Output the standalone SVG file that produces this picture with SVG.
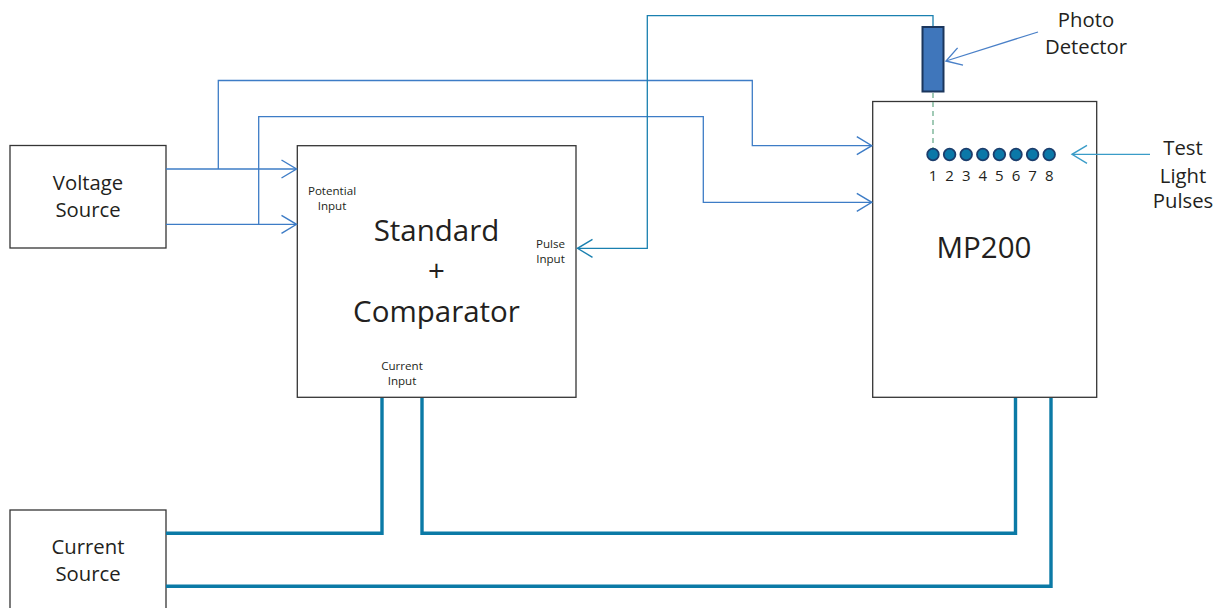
<svg xmlns="http://www.w3.org/2000/svg" width="1222" height="608" viewBox="0 0 1222 608">
<style>
.box{fill:#fff;stroke:#353535;stroke-width:1.3}
.t{font-family:"Open Sans","Liberation Sans",sans-serif;fill:#231f20;text-anchor:middle}
.lbl{font-size:20.3px}
.big{font-size:29.5px}
.sm{font-size:11.6px}
.num{font-size:15px}
.blue{fill:none;stroke:#3d7cc6;stroke-width:1.3}
.teal{fill:none;stroke:#1a80b0;stroke-width:1.3}
.thick{fill:none;stroke:#0b7aa6;stroke-width:3.4}
.led{fill:#0b78a8;stroke:#1b3d6c;stroke-width:1.8}
</style>
<defs>
<marker id="ab" markerUnits="userSpaceOnUse" orient="auto" markerWidth="20" markerHeight="22" refX="16" refY="10" viewBox="0 0 20 22" overflow="visible">
<path d="M1,1 L16,10 L1,19" fill="none" stroke="#3d7cc6" stroke-width="1.4"/>
</marker>
<marker id="at" markerUnits="userSpaceOnUse" orient="auto" markerWidth="20" markerHeight="22" refX="16" refY="10" viewBox="0 0 20 22" overflow="visible">
<path d="M1,1 L16,10 L1,19" fill="none" stroke="#1a80b0" stroke-width="1.4"/>
</marker>
<marker id="al" markerUnits="userSpaceOnUse" orient="auto" markerWidth="20" markerHeight="22" refX="16" refY="10" viewBox="0 0 20 22" overflow="visible">
<path d="M1,1 L16,10 L1,19" fill="none" stroke="#3a9cc8" stroke-width="1.4"/>
</marker>
<marker id="ap" markerUnits="userSpaceOnUse" orient="auto" markerWidth="20" markerHeight="22" refX="16" refY="10" viewBox="0 0 20 22" overflow="visible">
<path d="M1,1 L16,10 L1,19" fill="none" stroke="#4a80c8" stroke-width="1.4"/>
</marker>
</defs>
<rect width="1222" height="608" fill="#fff"/>

<g id="voltage-source">
<rect class="box" x="10" y="145.5" width="156" height="102.5"/>
<text class="t lbl" x="88" y="190">Voltage</text>
<text class="t lbl" x="88" y="217.3">Source</text>
</g>

<g id="current-source">
<rect class="box" x="10" y="510" width="156" height="110"/>
<text class="t lbl" x="88" y="554.3">Current</text>
<text class="t lbl" x="88" y="580.7">Source</text>
</g>

<g id="standard-comparator">
<rect class="box" x="297.3" y="145.7" width="278.7" height="251.6"/>
<text class="t big" x="436.5" y="241">Standard</text>
<text class="t big" x="436.5" y="281">+</text>
<text class="t big" x="436.5" y="321.7">Comparator</text>
<text class="t sm" x="332" y="195">Potential</text>
<text class="t sm" x="332" y="210">Input</text>
<text class="t sm" x="550.5" y="248">Pulse</text>
<text class="t sm" x="550.5" y="263">Input</text>
<text class="t sm" x="402" y="370">Current</text>
<text class="t sm" x="402" y="385">Input</text>
</g>

<g id="mp200">
<rect class="box" x="872.7" y="101.5" width="224" height="295.8"/>
<text class="t big" x="984" y="258.3">MP200</text>
<circle class="led" cx="933" cy="154.5" r="5.8"/>
<circle class="led" cx="949.6" cy="154.5" r="5.8"/>
<circle class="led" cx="966.2" cy="154.5" r="5.8"/>
<circle class="led" cx="982.8" cy="154.5" r="5.8"/>
<circle class="led" cx="999.4" cy="154.5" r="5.8"/>
<circle class="led" cx="1016" cy="154.5" r="5.8"/>
<circle class="led" cx="1032.6" cy="154.5" r="5.8"/>
<circle class="led" cx="1049.2" cy="154.5" r="5.8"/>
<text class="t num" x="933" y="181.3">1</text>
<text class="t num" x="949.6" y="181.3">2</text>
<text class="t num" x="966.2" y="181.3">3</text>
<text class="t num" x="982.8" y="181.3">4</text>
<text class="t num" x="999.4" y="181.3">5</text>
<text class="t num" x="1016" y="181.3">6</text>
<text class="t num" x="1032.6" y="181.3">7</text>
<text class="t num" x="1049.2" y="181.3">8</text>
</g>

<g id="photo-detector">
<rect x="922.5" y="27" width="21" height="64.5" fill="#3f76bb" stroke="#1b365d" stroke-width="2"/>
<text class="t lbl" x="1086" y="26.7">Photo</text>
<text class="t lbl" x="1086" y="54">Detector</text>
</g>

<g id="test-light-pulses">
<text class="t lbl" x="1183" y="155">Test</text>
<text class="t lbl" x="1183" y="182.5">Light</text>
<text class="t lbl" x="1183" y="208.3">Pulses</text>
</g>

<g id="connectors">
<path class="blue" d="M166,169 H296.5" marker-end="url(#ab)"/>
<path class="blue" d="M218.3,169 V80.5 H752.3 V145.7 H871.8" marker-end="url(#ab)"/>
<path class="blue" d="M166,224.3 H296.5" marker-end="url(#ab)"/>
<path class="blue" d="M258.7,224.3 V116.7 H703.3 V202.3 H871.8" marker-end="url(#ab)"/>
<path class="teal" d="M933,26 V15.7 H647.3 V248.3 H577.5" marker-end="url(#at)"/>
<path d="M933,93 V148" fill="none" stroke="#6fae8f" stroke-width="1.3" stroke-dasharray="5,4"/>
<path class="thick" d="M166,533.3 H382 V398"/>
<path class="thick" d="M422,398 V533.3 H1015.5 V398"/>
<path class="thick" d="M166,586.3 H1051 V398"/>
<path d="M1038,32 L946,61" fill="none" stroke="#4a80c8" stroke-width="1.3" marker-end="url(#ap)"/>
<path d="M1150,154.3 H1072" fill="none" stroke="#3a9cc8" stroke-width="1.3" marker-end="url(#al)"/>
</g>
</svg>
